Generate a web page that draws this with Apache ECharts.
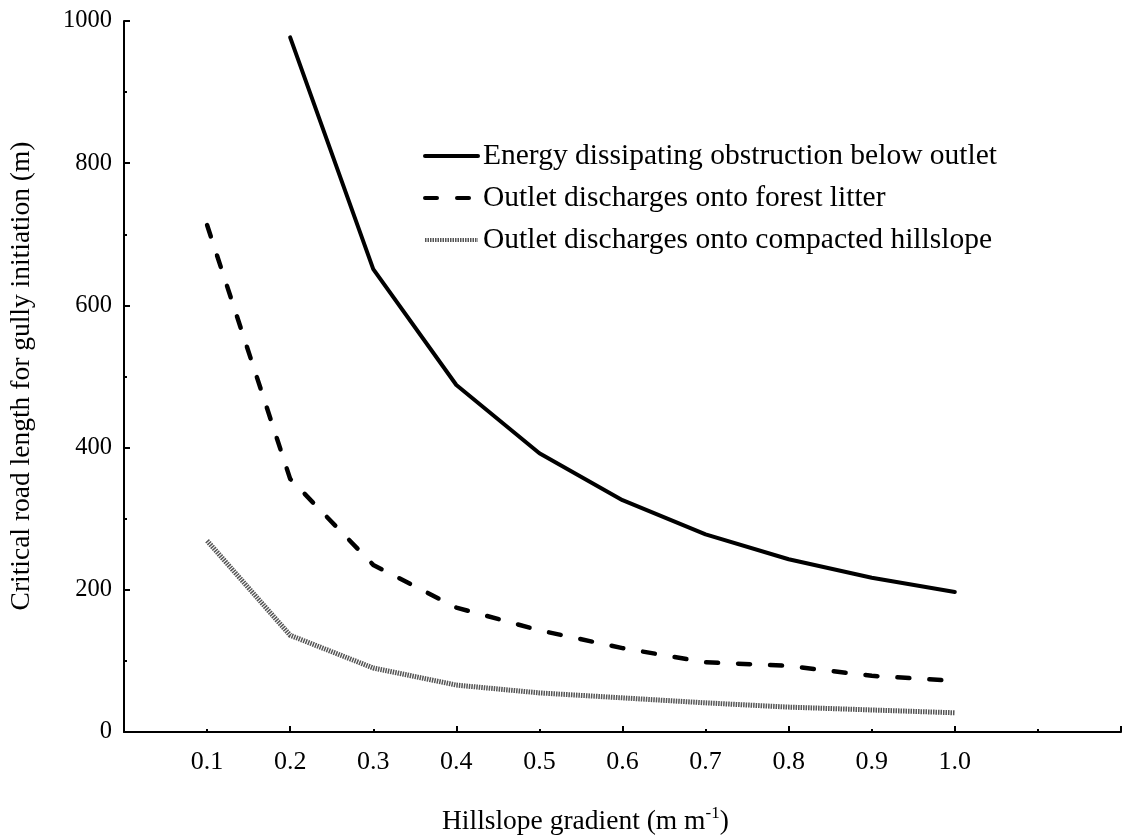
<!DOCTYPE html>
<html>
<head>
<meta charset="utf-8">
<script src="https://cdn.jsdelivr.net/npm/echarts@6/dist/echarts.min.js"></script>
<style>html,body{margin:0;padding:0;background:#fff;}#c{width:1131px;height:839px;}</style>
</head>
<body>
<div id="c"></div>
<script>
var gradients = [0.1, 0.2, 0.3, 0.4, 0.5, 0.6, 0.7, 0.8, 0.9, 1.0];
var energyDissipating = [null, 977, 651, 488, 392, 326, 278, 243, 217, 197];
var forestLitter = [713, 356, 235, 175, 143, 118, 98, 93, 79, 72];
var compactedHillslope = [269, 136, 90, 66, 55, 48, 41, 35, 31, 27];
var seriesNames = ['Energy dissipating obstruction below outlet', 'Outlet discharges onto forest litter', 'Outlet discharges onto compacted hillslope'];
var xTitle = 'Hillslope gradient (m m';
var yTitle = 'Critical road length for gully initiation (m)';

function pairs(vals) {
  return gradients.map(function (g, i) { return [g, vals[i]]; });
}
var FONT = '"Liberation Serif", "DejaVu Serif", serif';
var chart = echarts.init(document.getElementById('c'), null, { renderer: 'canvas' });
chart.setOption({
  animation: false,
  backgroundColor: '#fff',
  grid: { left: 124, right: 10, top: 21, bottom: 107, containLabel: false },
  legend: {
    orient: 'vertical', left: 423, top: 141, padding: 0, itemWidth: 53, itemHeight: 24, itemGap: 12,
    itemStyle: { opacity: 0 },
    lineStyle: { width: 4 },
    textStyle: { fontFamily: FONT, fontSize: 29.5, color: '#000' },
    data: seriesNames
  },
  xAxis: [{
    type: 'value', min: 0, max: 1.2, interval: 0.1,
    axisLine: { show: true, onZero: false, lineStyle: { color: '#000', width: 2 } },
    axisTick: { show: false }, splitLine: { show: false },
    axisLabel: { margin: 17, fontFamily: FONT, fontSize: 26, color: '#000',
      formatter: function (v) { return (v > 0.05 && v < 1.05) ? v.toFixed(1) : ''; } }
  }, {
    type: 'value', min: 0, max: 1.2, interval: 0.2, position: 'bottom',
    axisLine: { show: false }, splitLine: { show: false },
    axisLabel: { show: false },
    axisTick: { show: true, inside: true, length: 6, lineStyle: { color: '#000', width: 2 } },
    minorTick: { show: true, splitNumber: 2, length: 3, lineStyle: { color: '#000', width: 2 } },
    minorSplitLine: { show: false }
  }],
  yAxis: {
    type: 'value', min: 0, max: 1000, interval: 200,
    axisLine: { show: true, lineStyle: { color: '#000', width: 2 } },
    splitLine: { show: false },
    axisTick: { show: true, inside: true, length: 6, lineStyle: { color: '#000', width: 2 } },
    minorTick: { show: true, splitNumber: 2, length: 3, lineStyle: { color: '#000', width: 2 } },
    axisLabel: { margin: 12, fontFamily: FONT, fontSize: 24.5, color: '#000',
      formatter: function (v) { return String(v); } }
  },
  graphic: [{
    type: 'text', left: 442, top: 805,
    style: {
      text: '{a|' + xTitle + '}{s|-1}{a|)}',
      rich: {
        a: { fontFamily: FONT, fontSize: 27.5, fill: '#000', verticalAlign: 'bottom' },
        s: { fontFamily: FONT, fontSize: 17, fill: '#000', verticalAlign: 'top', padding: [0, 0, 14, 0] }
      }
    }
  }, {
    type: 'text', x: 22, y: 376, rotation: Math.PI / 2,
    style: { text: yTitle, fontFamily: FONT, fontSize: 27.5, fill: '#000', align: 'center', verticalAlign: 'middle' }
  }],
  series: [{
    name: seriesNames[0], type: 'line', data: pairs(energyDissipating), symbol: 'none',
    lineStyle: { color: '#000', width: 4, cap: 'round', join: 'round' }, itemStyle: { color: '#000' }
  }, {
    name: seriesNames[1], type: 'line', data: pairs(forestLitter), symbol: 'none',
    lineStyle: { color: '#000', width: 4.5, type: [12, 20], cap: 'round', join: 'round' }, itemStyle: { color: '#000' }
  }, {
    name: seriesNames[2], type: 'line', data: pairs(compactedHillslope), symbol: 'none',
    lineStyle: { color: '#555', width: 5, type: [1.5, 1], join: 'round' }, itemStyle: { color: '#555' }
  }]
});
</script>
</body>
</html>
